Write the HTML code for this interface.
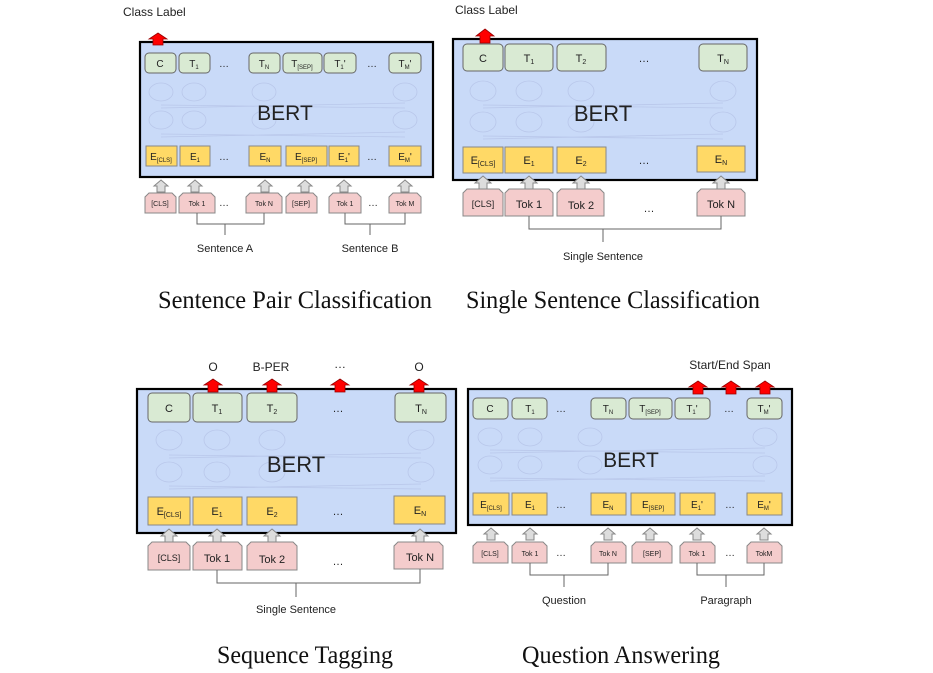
<!DOCTYPE html>
<html><head><meta charset="utf-8">
<style>
html,body{margin:0;padding:0;background:#fff;}
svg{display:block;}
.bx{fill:#c9daf8;stroke:#000;stroke-width:2.2;}
.g{fill:#d9ead3;stroke:#666;stroke-width:1;}
.y{fill:#ffd966;stroke:#888;stroke-width:1;}
.p{fill:#f4cccc;stroke:#888;stroke-width:1;}
.ga{fill:#ddd;stroke:#888;stroke-width:1;}
.ra{fill:#f00;stroke:#900;stroke-width:0.8;}
.el{fill:none;stroke:#b9c7ea;stroke-width:0.8;}
.ln{stroke:#666;stroke-width:1;fill:none;}
text{font-family:"Liberation Sans",sans-serif;fill:#222;}
.t{text-anchor:middle;}
.ttl{font-family:"Liberation Serif",serif;font-size:25px;fill:#111;text-anchor:middle;}
</style></head><body>
<svg width="933" height="673" viewBox="0 0 933 673" xmlns="http://www.w3.org/2000/svg">

<!-- ========== Panel 1 ========== -->
<text x="123" y="16" font-size="12">Class Label</text>
<rect class="bx" x="140" y="42" width="293" height="135"/>
<g class="el">
<ellipse cx="161" cy="92" rx="12" ry="9"/><ellipse cx="194" cy="92" rx="12" ry="9"/><ellipse cx="264" cy="92" rx="12" ry="9"/><ellipse cx="405" cy="92" rx="12" ry="9"/>
<ellipse cx="161" cy="120" rx="12" ry="9"/><ellipse cx="194" cy="120" rx="12" ry="9"/><ellipse cx="264" cy="120" rx="12" ry="9"/><ellipse cx="405" cy="120" rx="12" ry="9"/>
<path d="M161 105 L405 108 M161 108 L405 103 M161 134 L405 137 M161 137 L405 132"/>
</g>
<polygon class="ra" points="158,33 167,39 163,39 163,45 153,45 153,39 149,39"/>
<rect class="g" x="145" y="53" width="31" height="20" rx="4"/>
<rect class="g" x="179" y="53" width="31" height="20" rx="4"/>
<rect class="g" x="249" y="53" width="31" height="20" rx="4"/>
<rect class="g" x="283" y="53" width="39" height="20" rx="4"/>
<rect class="g" x="324" y="53" width="32" height="20" rx="4"/>
<rect class="g" x="389" y="53" width="32" height="20" rx="4"/>
<g font-size="10" class="t">
<text x="160" y="67">C</text>
<text x="194" y="67">T<tspan font-size="6" dy="2">1</tspan></text>
<text x="224" y="67">…</text>
<text x="264" y="67">T<tspan font-size="6" dy="2">N</tspan></text>
<text x="302" y="67">T<tspan font-size="6" dy="2">[SEP]</tspan></text>
<text x="340" y="67">T<tspan font-size="6" dy="2">1</tspan><tspan dy="-2">'</tspan></text>
<text x="372" y="67">…</text>
<text x="405" y="67">T<tspan font-size="6" dy="2">M</tspan><tspan dy="-2">'</tspan></text>
</g>
<text x="285" y="120" font-size="21" class="t">BERT</text>
<rect class="y" x="146" y="146" width="31" height="20"/>
<rect class="y" x="180" y="146" width="30" height="20"/>
<rect class="y" x="249" y="146" width="32" height="20"/>
<rect class="y" x="286" y="146" width="41" height="20"/>
<rect class="y" x="329" y="146" width="30" height="20"/>
<rect class="y" x="389" y="146" width="32" height="20"/>
<g font-size="10" class="t">
<text x="161" y="160">E<tspan font-size="6" dy="2">[CLS]</tspan></text>
<text x="195" y="160">E<tspan font-size="6" dy="2">1</tspan></text>
<text x="224" y="160">…</text>
<text x="265" y="160">E<tspan font-size="6" dy="2">N</tspan></text>
<text x="306" y="160">E<tspan font-size="6" dy="2">[SEP]</tspan></text>
<text x="344" y="160">E<tspan font-size="6" dy="2">1</tspan><tspan dy="-2">'</tspan></text>
<text x="372" y="160">…</text>
<text x="405" y="160">E<tspan font-size="6" dy="2">M</tspan><tspan dy="-2">'</tspan></text>
</g>
<g class="ga">
<polygon points="161,180 168,186 165,186 165,192 157,192 157,186 154,186"/>
<polygon points="195,180 202,186 199,186 199,192 191,192 191,186 188,186"/>
<polygon points="265,180 272,186 269,186 269,192 261,192 261,186 258,186"/>
<polygon points="305,180 312,186 309,186 309,192 301,192 301,186 298,186"/>
<polygon points="344,180 351,186 348,186 348,192 340,192 340,186 337,186"/>
<polygon points="405,180 412,186 409,186 409,192 401,192 401,186 398,186"/>
</g>
<g class="p">
<path d="M145 213 V197 l4 -4 H172 l4 4 V213 Z"/>
<path d="M179 213 V197 l4 -4 H211 l4 4 V213 Z"/>
<path d="M246 213 V197 l4 -4 H278 l4 4 V213 Z"/>
<path d="M286 213 V197 l4 -4 H313 l4 4 V213 Z"/>
<path d="M329 213 V197 l4 -4 H357 l4 4 V213 Z"/>
<path d="M389 213 V197 l4 -4 H417 l4 4 V213 Z"/>
</g>
<g font-size="7" class="t">
<text x="160" y="206">[CLS]</text><text x="197" y="206">Tok 1</text><text x="264" y="206">Tok N</text>
<text x="301" y="206">[SEP]</text><text x="345" y="206">Tok 1</text><text x="405" y="206">Tok M</text>
</g>
<g font-size="10" class="t"><text x="224" y="206">…</text><text x="373" y="206">…</text></g>
<path class="ln" d="M197 213 V224 H264 V213 M225 224 V235 M345 213 V224 H405 V213 M370 224 V235"/>
<text x="225" y="252" font-size="11" class="t">Sentence A</text>
<text x="370" y="252" font-size="11" class="t">Sentence B</text>
<text x="295" y="308" class="ttl" textLength="274" lengthAdjust="spacingAndGlyphs">Sentence Pair Classification</text>

<!-- ========== Panel 2 ========== -->
<text x="455" y="14" font-size="12">Class Label</text>
<rect class="bx" x="453" y="39" width="304" height="141"/>
<g class="el">
<ellipse cx="483" cy="91" rx="13" ry="10"/><ellipse cx="529" cy="91" rx="13" ry="10"/><ellipse cx="581" cy="91" rx="13" ry="10"/><ellipse cx="723" cy="91" rx="13" ry="10"/>
<ellipse cx="483" cy="122" rx="13" ry="10"/><ellipse cx="529" cy="122" rx="13" ry="10"/><ellipse cx="581" cy="122" rx="13" ry="10"/><ellipse cx="723" cy="122" rx="13" ry="10"/>
<path d="M483 105 L723 108 M483 108 L723 103 M483 136 L723 139 M483 139 L723 134"/>
</g>
<polygon class="ra" points="485,29 494,36 490,36 490,43 480,43 480,36 476,36"/>
<rect class="g" x="463" y="44" width="40" height="27" rx="4"/>
<rect class="g" x="505" y="44" width="48" height="27" rx="4"/>
<rect class="g" x="557" y="44" width="49" height="27" rx="4"/>
<rect class="g" x="699" y="44" width="48" height="27" rx="4"/>
<g font-size="11" class="t">
<text x="483" y="62">C</text>
<text x="529" y="62">T<tspan font-size="7" dy="2">1</tspan></text>
<text x="581" y="62">T<tspan font-size="7" dy="2">2</tspan></text>
<text x="644" y="62">…</text>
<text x="723" y="62">T<tspan font-size="7" dy="2">N</tspan></text>
</g>
<text x="603" y="121" font-size="22" class="t">BERT</text>
<rect class="y" x="463" y="147" width="40" height="26"/>
<rect class="y" x="505" y="147" width="48" height="26"/>
<rect class="y" x="557" y="147" width="49" height="26"/>
<rect class="y" x="697" y="146" width="48" height="26"/>
<g font-size="11" class="t">
<text x="483" y="164">E<tspan font-size="7" dy="2">[CLS]</tspan></text>
<text x="529" y="164">E<tspan font-size="7" dy="2">1</tspan></text>
<text x="581" y="164">E<tspan font-size="7" dy="2">2</tspan></text>
<text x="644" y="164">…</text>
<text x="721" y="163">E<tspan font-size="7" dy="2">N</tspan></text>
</g>
<g class="ga">
<polygon points="483,176 491,183 487,183 487,189 479,189 479,183 475,183"/>
<polygon points="529,176 537,183 533,183 533,189 525,189 525,183 521,183"/>
<polygon points="581,176 589,183 585,183 585,189 577,189 577,183 573,183"/>
<polygon points="721,176 729,183 725,183 725,189 717,189 717,183 713,183"/>
</g>
<g class="p">
<path d="M463 216 V193 l4 -4 H499 l4 4 V216 Z"/>
<path d="M505 216 V193 l4 -4 H549 l4 4 V216 Z"/>
<path d="M557 216 V193 l4 -4 H600 l4 4 V216 Z"/>
<path d="M697 216 V193 l4 -4 H741 l4 4 V216 Z"/>
</g>
<g class="t">
<text x="483" y="207" font-size="9">[CLS]</text>
<text x="529" y="208" font-size="11">Tok 1</text>
<text x="581" y="209" font-size="11">Tok 2</text>
<text x="649" y="212" font-size="11">…</text>
<text x="721" y="208" font-size="11">Tok N</text>
</g>
<path class="ln" d="M529 216 V229 H721 V216 M603 229 V242"/>
<text x="603" y="260" font-size="11" class="t">Single Sentence</text>
<text x="613" y="308" class="ttl" textLength="294" lengthAdjust="spacingAndGlyphs">Single Sentence Classification</text>

<!-- ========== Panel 3 ========== -->
<g font-size="12" class="t">
<text x="213" y="371">O</text><text x="271" y="371">B-PER</text><text x="340" y="368">…</text><text x="419" y="371">O</text>
</g>
<rect class="bx" x="137" y="389" width="319" height="144"/>
<g class="el">
<ellipse cx="169" cy="440" rx="13" ry="10"/><ellipse cx="217" cy="440" rx="13" ry="10"/><ellipse cx="272" cy="440" rx="13" ry="10"/><ellipse cx="421" cy="440" rx="13" ry="10"/>
<ellipse cx="169" cy="472" rx="13" ry="10"/><ellipse cx="217" cy="472" rx="13" ry="10"/><ellipse cx="272" cy="472" rx="13" ry="10"/><ellipse cx="421" cy="472" rx="13" ry="10"/>
<path d="M169 455 L421 458 M169 458 L421 453 M169 486 L421 489 M169 489 L421 484"/>
</g>
<g class="ra">
<polygon points="213,379 222,385 218,385 218,392 208,392 208,385 204,385"/>
<polygon points="272,379 281,385 277,385 277,392 267,392 267,385 263,385"/>
<polygon points="340,379 349,385 345,385 345,392 335,392 335,385 331,385"/>
<polygon points="419,379 428,385 424,385 424,392 414,392 414,385 410,385"/>
</g>
<rect class="g" x="148" y="393" width="42" height="29" rx="4"/>
<rect class="g" x="193" y="393" width="49" height="29" rx="4"/>
<rect class="g" x="247" y="393" width="50" height="29" rx="4"/>
<rect class="g" x="395" y="393" width="51" height="29" rx="4"/>
<g font-size="11" class="t">
<text x="169" y="412">C</text>
<text x="217" y="412">T<tspan font-size="7" dy="2">1</tspan></text>
<text x="272" y="412">T<tspan font-size="7" dy="2">2</tspan></text>
<text x="338" y="412">…</text>
<text x="421" y="412">T<tspan font-size="7" dy="2">N</tspan></text>
</g>
<text x="296" y="472" font-size="22" class="t">BERT</text>
<rect class="y" x="148" y="497" width="42" height="28"/>
<rect class="y" x="193" y="497" width="49" height="28"/>
<rect class="y" x="247" y="497" width="50" height="28"/>
<rect class="y" x="394" y="496" width="51" height="28"/>
<g font-size="11" class="t">
<text x="169" y="515">E<tspan font-size="7" dy="2">[CLS]</tspan></text>
<text x="217" y="515">E<tspan font-size="7" dy="2">1</tspan></text>
<text x="272" y="515">E<tspan font-size="7" dy="2">2</tspan></text>
<text x="338" y="515">…</text>
<text x="420" y="514">E<tspan font-size="7" dy="2">N</tspan></text>
</g>
<g class="ga">
<polygon points="169,529 177,536 173,536 173,542 165,542 165,536 161,536"/>
<polygon points="217,529 225,536 221,536 221,542 213,542 213,536 209,536"/>
<polygon points="272,529 280,536 276,536 276,542 268,542 268,536 264,536"/>
<polygon points="420,529 428,536 424,536 424,542 416,542 416,536 412,536"/>
</g>
<g class="p">
<path d="M148 570 V546 l4 -4 H186 l4 4 V570 Z"/>
<path d="M193 570 V546 l4 -4 H238 l4 4 V570 Z"/>
<path d="M247 570 V546 l4 -4 H293 l4 4 V570 Z"/>
<path d="M394 569 V546 l4 -4 H439 l4 4 V569 Z"/>
</g>
<g class="t">
<text x="169" y="561" font-size="9">[CLS]</text>
<text x="217" y="562" font-size="11">Tok 1</text>
<text x="272" y="563" font-size="11">Tok 2</text>
<text x="338" y="565" font-size="11">…</text>
<text x="420" y="561" font-size="11">Tok N</text>
</g>
<path class="ln" d="M217 570 V583 H420 V569 M296 583 V597"/>
<text x="296" y="613" font-size="11" class="t">Single Sentence</text>
<text x="305" y="663" class="ttl" textLength="176" lengthAdjust="spacingAndGlyphs">Sequence Tagging</text>

<!-- ========== Panel 4 ========== -->
<text x="730" y="369" font-size="12" class="t">Start/End Span</text>
<rect class="bx" x="468" y="389" width="324" height="136"/>
<g class="el">
<ellipse cx="490" cy="437" rx="12" ry="9"/><ellipse cx="530" cy="437" rx="12" ry="9"/><ellipse cx="590" cy="437" rx="12" ry="9"/><ellipse cx="765" cy="437" rx="12" ry="9"/>
<ellipse cx="490" cy="465" rx="12" ry="9"/><ellipse cx="530" cy="465" rx="12" ry="9"/><ellipse cx="590" cy="465" rx="12" ry="9"/><ellipse cx="765" cy="465" rx="12" ry="9"/>
<path d="M490 450 L765 453 M490 453 L765 448 M490 478 L765 481 M490 481 L765 476"/>
</g>
<g class="ra">
<polygon points="698,381 707,387 703,387 703,394 693,394 693,387 689,387"/>
<polygon points="731,381 740,387 736,387 736,394 726,394 726,387 722,387"/>
<polygon points="765,381 774,387 770,387 770,394 760,394 760,387 756,387"/>
</g>
<rect class="g" x="473" y="398" width="35" height="21" rx="4"/>
<rect class="g" x="512" y="398" width="35" height="21" rx="4"/>
<rect class="g" x="591" y="398" width="35" height="21" rx="4"/>
<rect class="g" x="629" y="398" width="43" height="21" rx="4"/>
<rect class="g" x="675" y="398" width="35" height="21" rx="4"/>
<rect class="g" x="747" y="398" width="35" height="21" rx="4"/>
<g font-size="10" class="t">
<text x="490" y="412">C</text>
<text x="530" y="412">T<tspan font-size="6" dy="2">1</tspan></text>
<text x="561" y="412">…</text>
<text x="608" y="412">T<tspan font-size="6" dy="2">N</tspan></text>
<text x="650" y="412">T<tspan font-size="6" dy="2">[SEP]</tspan></text>
<text x="692" y="412">T<tspan font-size="6" dy="2">1</tspan><tspan dy="-2">'</tspan></text>
<text x="729" y="412">…</text>
<text x="764" y="412">T<tspan font-size="6" dy="2">M</tspan><tspan dy="-2">'</tspan></text>
</g>
<text x="631" y="467" font-size="21" class="t">BERT</text>
<rect class="y" x="473" y="493" width="36" height="22"/>
<rect class="y" x="512" y="493" width="35" height="22"/>
<rect class="y" x="591" y="493" width="35" height="22"/>
<rect class="y" x="631" y="493" width="44" height="22"/>
<rect class="y" x="680" y="493" width="35" height="22"/>
<rect class="y" x="747" y="493" width="35" height="22"/>
<g font-size="10" class="t">
<text x="491" y="508">E<tspan font-size="6" dy="2">[CLS]</tspan></text>
<text x="530" y="508">E<tspan font-size="6" dy="2">1</tspan></text>
<text x="561" y="508">…</text>
<text x="608" y="508">E<tspan font-size="6" dy="2">N</tspan></text>
<text x="653" y="508">E<tspan font-size="6" dy="2">[SEP]</tspan></text>
<text x="697" y="508">E<tspan font-size="6" dy="2">1</tspan><tspan dy="-2">'</tspan></text>
<text x="730" y="508">…</text>
<text x="764" y="508">E<tspan font-size="6" dy="2">M</tspan><tspan dy="-2">'</tspan></text>
</g>
<g class="ga">
<polygon points="491,528 498,534 495,534 495,540 487,540 487,534 484,534"/>
<polygon points="530,528 537,534 534,534 534,540 526,540 526,534 523,534"/>
<polygon points="608,528 615,534 612,534 612,540 604,540 604,534 601,534"/>
<polygon points="650,528 657,534 654,534 654,540 646,540 646,534 643,534"/>
<polygon points="697,528 704,534 701,534 701,540 693,540 693,534 690,534"/>
<polygon points="764,528 771,534 768,534 768,540 760,540 760,534 757,534"/>
</g>
<g class="p">
<path d="M473 563 V546 l4 -4 H504 l4 4 V563 Z"/>
<path d="M512 563 V546 l4 -4 H543 l4 4 V563 Z"/>
<path d="M591 563 V546 l4 -4 H622 l4 4 V563 Z"/>
<path d="M632 563 V546 l4 -4 H668 l4 4 V563 Z"/>
<path d="M680 563 V546 l4 -4 H711 l4 4 V563 Z"/>
<path d="M747 563 V546 l4 -4 H778 l4 4 V563 Z"/>
</g>
<g font-size="7" class="t">
<text x="490" y="556">[CLS]</text><text x="530" y="556">Tok 1</text><text x="608" y="556">Tok N</text>
<text x="652" y="556">[SEP]</text><text x="697" y="556">Tok 1</text><text x="764" y="556">TokM</text>
</g>
<g font-size="10" class="t"><text x="561" y="556">…</text><text x="730" y="556">…</text></g>
<path class="ln" d="M530 563 V575 H608 V563 M564 575 V587 M697 563 V575 H764 V563 M726 575 V587"/>
<text x="564" y="604" font-size="11" class="t">Question</text>
<text x="726" y="604" font-size="11" class="t">Paragraph</text>
<text x="621" y="663" class="ttl" textLength="198" lengthAdjust="spacingAndGlyphs">Question Answering</text>
</svg>
</body></html>
